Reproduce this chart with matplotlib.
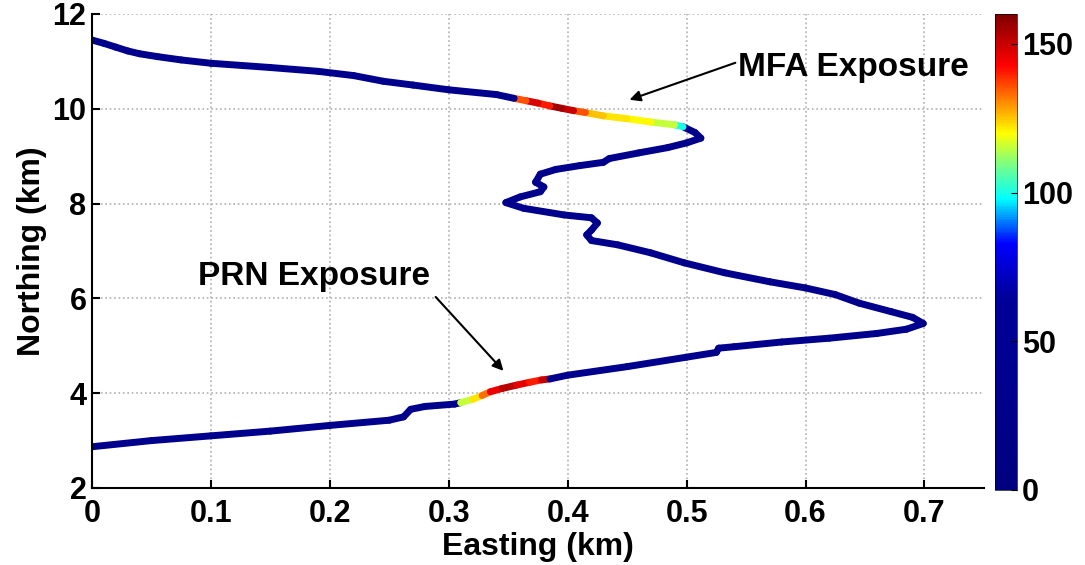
import matplotlib
matplotlib.use('Agg')
import numpy as np
import matplotlib.pyplot as plt
from matplotlib.collections import LineCollection
from matplotlib.colors import LinearSegmentedColormap, Normalize
from matplotlib.cm import ScalarMappable

plt.rcParams['font.family'] = ['Liberation Sans', 'DejaVu Sans']
plt.rcParams['font.weight'] = 'bold'

# track, from the south end to the north end
easting = [0.000, 0.05, 0.10, 0.15, 0.20, 0.25, 0.262, 0.268, 0.28, 0.305,
           0.31, 0.32, 0.328, 0.335, 0.345, 0.357, 0.368, 0.378, 0.385,
           0.40, 0.45, 0.50, 0.525, 0.527, 0.54, 0.58, 0.62, 0.66, 0.685, 0.699,
           0.69, 0.672, 0.645, 0.625, 0.60, 0.57, 0.532, 0.498, 0.47, 0.442, 0.42,
           0.416, 0.42, 0.425, 0.42, 0.397, 0.363, 0.348, 0.36, 0.377, 0.38,
           0.373, 0.377, 0.39, 0.41, 0.43, 0.435, 0.46, 0.484, 0.50, 0.512,
           0.507, 0.497, 0.49, 0.47, 0.45, 0.43, 0.415, 0.405, 0.395, 0.385,
           0.375, 0.365, 0.355, 0.34, 0.30, 0.27, 0.245, 0.22, 0.19, 0.15,
           0.10, 0.075, 0.055, 0.04, 0.03, 0.02, 0.01, 0.000]
northing = [2.87, 3.00, 3.10, 3.20, 3.32, 3.43, 3.50, 3.66, 3.72, 3.77,
            3.80, 3.87, 3.95, 4.03, 4.10, 4.17, 4.23, 4.28, 4.30,
            4.38, 4.56, 4.76, 4.86, 4.95, 4.98, 5.08, 5.16, 5.26, 5.35, 5.47,
            5.60, 5.72, 5.90, 6.08, 6.22, 6.35, 6.54, 6.75, 6.96, 7.13, 7.22,
            7.34, 7.44, 7.59, 7.70, 7.76, 7.90, 8.02, 8.14, 8.25, 8.35,
            8.45, 8.62, 8.72, 8.80, 8.87, 8.95, 9.07, 9.18, 9.28, 9.38,
            9.50, 9.62, 9.66, 9.72, 9.79, 9.85, 9.92, 9.96, 10.01, 10.06,
            10.12, 10.17, 10.22, 10.30, 10.40, 10.50, 10.58, 10.70, 10.79, 10.87,
            10.96, 11.03, 11.10, 11.16, 11.22, 11.30, 11.38, 11.45]
level = [30, 30, 30, 30, 30, 30, 30, 30, 30, 30,
         115, 122, 133, 145, 152, 146, 140, 150, 30,
         30, 30, 30, 30, 30, 30, 30, 30, 30, 30, 30,
         30, 30, 30, 30, 30, 30, 30, 30, 30, 30, 30,
         30, 30, 30, 30, 30, 30, 30, 30, 30, 30,
         30, 30, 30, 30, 30, 30, 30, 30, 30, 30,
         30, 100, 115, 120, 122, 125, 135, 150, 155, 140,
         148, 135, 30, 30, 30, 30, 30, 30, 30, 30,
         30, 30, 30, 30, 30, 30, 30, 30]

# colour scale (jet squeezed into the upper part)
cmap_stops = [0, 65, 83, 98, 110, 120, 143, 160]
cmap_colors = ['#00007f', '#00009a', '#0000ff', '#00ffff', '#80ff80',
               '#ffff00', '#ff0000', '#800000']

cmap = LinearSegmentedColormap.from_list(
    'exp', [(s / cmap_stops[-1], c) for s, c in zip(cmap_stops, cmap_colors)])
norm = Normalize(0, 160)

fig = plt.figure(figsize=(10.85, 5.65), dpi=100)
ax = fig.add_axes([0.0848, 0.1363, 0.822, 0.839])

pts = np.column_stack([easting, northing])
segs = np.stack([pts[:-1], pts[1:]], axis=1)
lv = np.array(level, dtype=float)
lc = LineCollection(segs, cmap=cmap, norm=norm, linewidths=5, capstyle='round',
                    joinstyle='round')
lc.set_array(lv[:-1])
ax.add_collection(lc)

ax.set_xlim(0, 0.75)
ax.set_ylim(2, 12)
ax.set_xticks(np.arange(0, 0.71, 0.1))
ax.set_xticklabels(['0', '0.1', '0.2', '0.3', '0.4', '0.5', '0.6', '0.7'])
ax.set_yticks([2, 4, 6, 8, 10, 12])
ax.grid(True, color='#b0b0b0', linestyle=':', linewidth=1.2)
ax.set_axisbelow(True)
for s in ['top', 'right']:
    ax.spines[s].set_visible(False)
for s in ['left', 'bottom']:
    ax.spines[s].set_linewidth(1.5)
ax.tick_params(direction='in', length=6, width=1.5, labelsize=22, pad=4)
ax.tick_params(axis='x', pad=8)
ax.set_xlabel('Easting (km)', fontsize=23, fontweight='bold', labelpad=2)
ax.set_ylabel('Northing (km)', fontsize=23, fontweight='bold', labelpad=4)

arrow = dict(arrowstyle='-|>', color='k', lw=1.5, mutation_scale=16,
             shrinkA=0, shrinkB=0)
ax.text(0.543, 10.86, 'MFA Exposure', fontsize=24, fontweight='bold',
        ha='left', va='center')
ax.annotate('', xy=(0.452, 10.19), xytext=(0.541, 10.97), arrowprops=arrow)
ax.text(0.089, 6.47, 'PRN Exposure', fontsize=24, fontweight='bold',
        ha='left', va='center')
ax.annotate('', xy=(0.346, 4.47), xytext=(0.289, 6.03), arrowprops=arrow)

cax = fig.add_axes([0.917, 0.133, 0.02, 0.842])
cb = fig.colorbar(ScalarMappable(norm=norm, cmap=cmap), cax=cax)
cb.set_ticks([0, 50, 100, 150])
cb.outline.set_linewidth(0.5)
cax.tick_params(labelsize=22, direction='in', length=4, pad=4)

fig.savefig('out.png', dpi=100)
